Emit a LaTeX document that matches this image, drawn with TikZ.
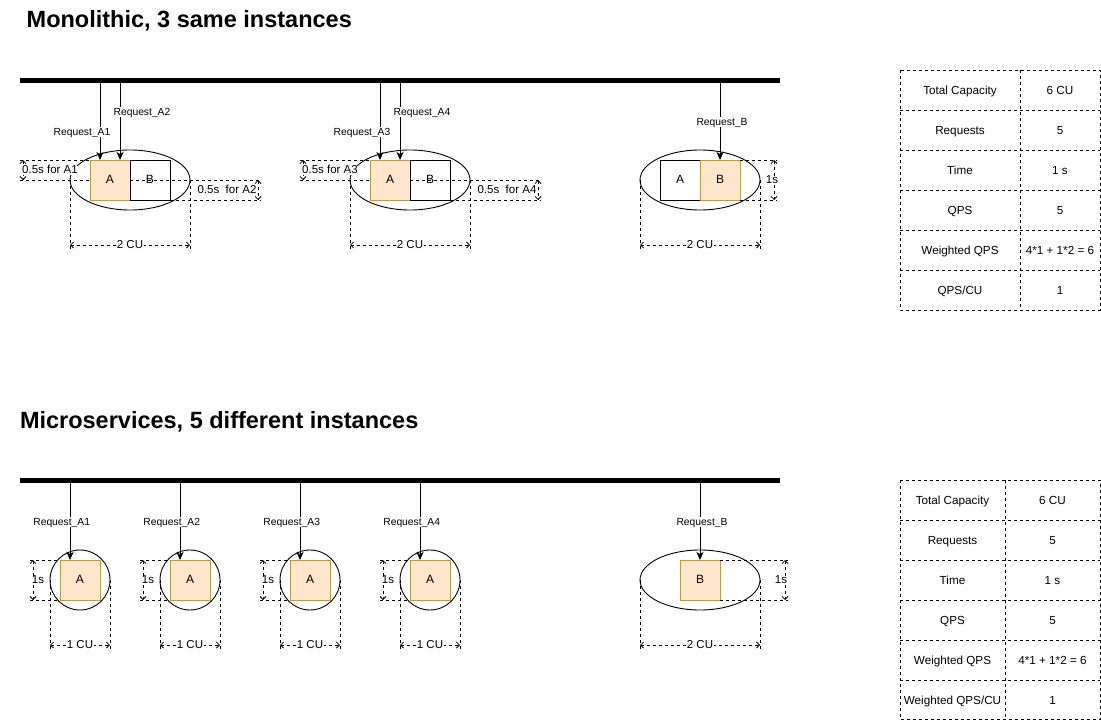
\documentclass[tikz,border=0pt]{standalone}
\usepackage{fontspec}
\setmainfont{Liberation Sans}
\usetikzlibrary{shapes.geometric,arrows.meta,calc}
\definecolor{aFill}{HTML}{FFE6CC}
\definecolor{aLine}{HTML}{D79B00}
\begin{document}
\begin{tikzpicture}[x=1pt,y=-1pt,
  every node/.style={outer sep=0pt},
  txt/.style={text height=0.75em, text depth=0.05em},
  box/.style={draw=black, fill=white, minimum width=40pt, minimum height=40pt, inner sep=0pt, line width=0.9pt, font=\fontsize{12}{14}\selectfont, txt},
  abox/.style={box, draw=aLine, fill=aFill},
  inst/.style={draw=black, inner sep=0pt, line width=0.9pt},
  bus/.style={line width=4.5pt},
  req/.style={line width=0.9pt, -{Stealth[length=8pt,width=7pt,inset=2pt]}},
  reqlbl/.style={fill=white, inner sep=1pt, font=\fontsize{10.3}{12}\selectfont, txt},
  ext/.style={dash pattern=on 3pt off 3pt, line width=0.8pt},
  dimln/.style={ext, {Straight Barb[length=3pt,width=6pt]}-{Straight Barb[length=3pt,width=6pt]}},
  dimlbl/.style={fill=white, inner sep=0.5pt, font=\fontsize{11.5}{13}\selectfont, txt},
  ttl/.style={font=\bfseries\fontsize{23.5}{28}\selectfont, inner sep=0pt, anchor=base west},
  cell/.style={font=\fontsize{11.7}{14}\selectfont, inner sep=0pt, text height=0.95em, text depth=0pt},
  grid/.style={dash pattern=on 3pt off 3pt, line width=0.8pt}
]
\useasboundingbox (0,0) rectangle (1101,720);

% titles
\node[ttl] (t1) at (26.7,27.3) {Monolithic, 3 same instances};
\node[ttl] (t2) at (20,428.3) {Microservices, 5 different instances};

% ===== Monolithic =====
\coordinate (bus1w) at (20,80.5);
\coordinate (bus1e) at (780,80.5);
\draw[bus] (bus1w) -- (bus1e);

\foreach \k/\ox/\na/\nb in {0/0/1/2, 1/280/3/4} {
  \node[inst, ellipse, minimum width=120pt, minimum height=60pt] (mE\k) at (130+\ox,180) {};
  \node[abox] (mA\k) at (110+\ox,180) {A};
  \node[box] (mB\k) at (150+\ox,180) {B};
  \coordinate (rA\k) at (100+\ox,80.5);
  \coordinate (rB\k) at (120+\ox,80.5);
  \draw[req] (rA\k) -- (rA\k |- mA\k.north);
  \draw[req] (rB\k) -- (rB\k |- mA\k.north);
  \node[reqlbl] (lA\k) at (82+\ox,131.7) {Request\_A\na};
  \node[reqlbl] (lB\k) at (142+\ox,111.7) {Request\_A\nb};
  % left dimension
  \draw[ext] (20+\ox,160) -- (mA\k.north west);
  \draw[ext] (20+\ox,180) -- (mA\k.west);
  \draw[dimln] (23+\ox,160) -- (23+\ox,180);
  \node[dimlbl] (dl\k) at (50+\ox,170) {0.5s for A\na};
  % right dimension
  \draw[ext] (mB\k.west) -- (261+\ox,180);
  \draw[ext] (mB\k.south east) -- (261+\ox,200);
  \draw[dimln] (258+\ox,180) -- (258+\ox,200);
  \node[dimlbl] (dr\k) at (227+\ox,190) {0.5s\ \ for A\nb};
  % bottom dimension
  \draw[ext] (mE\k.west) -- ++(0,69);
  \draw[ext] (mE\k.east) -- ++(0,69);
  \draw[dimln] (70+\ox,245) -- (190+\ox,245);
  \node[dimlbl] (db\k) at (130+\ox,245) {2 CU};
}

% third monolithic instance
\node[inst, ellipse, minimum width=120pt, minimum height=60pt] (mE2) at (700,180) {};
\node[box] (mA2) at (680,180) {A};
\node[abox] (mB2) at (720,180) {B};
\coordinate (rB2) at (720,80.5);
\draw[req] (rB2) -- (mB2.north);
\node[reqlbl] (lB2) at (722,121.7) {Request\_B};
\draw[ext] (mB2.north east) -- (777,160);
\draw[ext] (mB2.south east) -- (777,200);
\draw[dimln] (774,160) -- (774,200);
\node[dimlbl] (dr2) at (772,180) {1s};
\draw[ext] (mE2.west) -- ++(0,69);
\draw[ext] (mE2.east) -- ++(0,69);
\draw[dimln] (640,245) -- (760,245);
\node[dimlbl] (db2) at (700,245) {2 CU};

% table 1
\draw[grid] (900,70) rectangle (1100,310);
\draw[grid] (1020,70) -- (1020,310);
\foreach \y in {110,150,190,230,270} \draw[grid] (900,\y) -- (1100,\y);
\node[cell] (ta1) at (960,90) {Total Capacity};
\node[cell] (tb1) at (1060,90) {6 CU};
\node[cell] (ta2) at (960,130) {Requests};
\node[cell] (tb2) at (1060,130) {5};
\node[cell] (ta3) at (960,170) {Time};
\node[cell] (tb3) at (1060,170) {1 s};
\node[cell] (ta4) at (960,210) {QPS};
\node[cell] (tb4) at (1060,210) {5};
\node[cell] (ta5) at (960,250) {Weighted QPS};
\node[cell] (tb5) at (1060,250) {4*1 + 1*2 = 6};
\node[cell] (ta6) at (960,290) {QPS/CU};
\node[cell] (tb6) at (1060,290) {1};

% ===== Microservices =====
\coordinate (bus2w) at (20,480.5);
\coordinate (bus2e) at (780,480.5);
\draw[bus] (bus2w) -- (bus2e);

\foreach \c/\n in {80/1,190/2,310/3,430/4} {
  \node[inst, circle, minimum size=60pt] (sE\n) at (\c,580) {};
  \node[abox] (sA\n) at (\c,580) {A};
  \coordinate (sR\n) at (\c-10,480.5);
  \draw[req] (sR\n) -- (sR\n |- sA\n.north);
  \node[reqlbl] (sL\n) at (\c-18.3,521.7) {Request\_A\n};
  \draw[ext] (\c-50,560) -- (sA\n.north west);
  \draw[ext] (\c-50,600) -- (sA\n.south west);
  \draw[dimln] (\c-47,560) -- (\c-47,600);
  \node[dimlbl] (sd\n) at (\c-42,580) {1s};
  \draw[ext] (sE\n.west) -- ++(0,69);
  \draw[ext] (sE\n.east) -- ++(0,69);
  \draw[dimln] (\c-30,645) -- (\c+30,645);
  \node[dimlbl] (sb\n) at (\c,645) {1 CU};
}

\node[inst, ellipse, minimum width=120pt, minimum height=60pt] (sE5) at (700,580) {};
\node[abox] (sB5) at (700,580) {B};
\coordinate (sR5) at (700,480.5);
\draw[req] (sR5) -- (sB5.north);
\node[reqlbl] (sL5) at (702,521.7) {Request\_B};
\draw[ext] (sB5.north east) -- (788,560);
\draw[ext] (sB5.south east) -- (788,600);
\draw[dimln] (785,560) -- (785,600);
\node[dimlbl] (sd5) at (781,580) {1s};
\draw[ext] (sE5.west) -- ++(0,69);
\draw[ext] (sE5.east) -- ++(0,69);
\draw[dimln] (640,645) -- (760,645);
\node[dimlbl] (sb5) at (700,645) {2 CU};

% table 2
\draw[grid] (900,480) rectangle (1100,719.5);
\draw[grid] (1005,480) -- (1005,719.5);
\foreach \y in {520,560,600,640,680} \draw[grid] (900,\y) -- (1100,\y);
\node[cell] (ua1) at (952.5,500) {Total Capacity};
\node[cell] (ub1) at (1052.5,500) {6 CU};
\node[cell] (ua2) at (952.5,540) {Requests};
\node[cell] (ub2) at (1052.5,540) {5};
\node[cell] (ua3) at (952.5,580) {Time};
\node[cell] (ub3) at (1052.5,580) {1 s};
\node[cell] (ua4) at (952.5,620) {QPS};
\node[cell] (ub4) at (1052.5,620) {5};
\node[cell] (ua5) at (952.5,660) {Weighted QPS};
\node[cell] (ub5) at (1052.5,660) {4*1 + 1*2 = 6};
\node[cell] (ua6) at (952.5,700) {Weighted QPS/CU};
\node[cell] (ub6) at (1052.5,700) {1};
\end{tikzpicture}
\end{document}
